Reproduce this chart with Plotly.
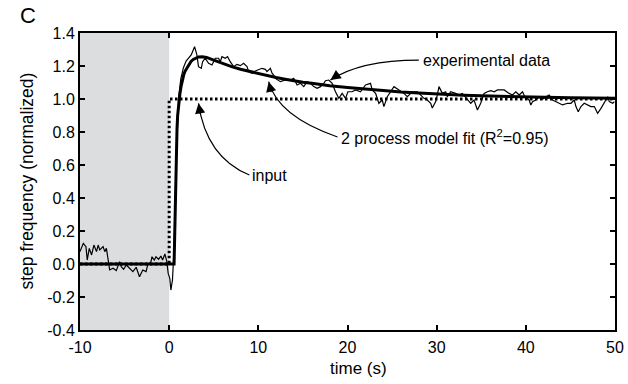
import plotly.graph_objects as go

# ---- data ----
exp_t = [-10.0, -9.63, -9.33, -9.19, -8.96, -8.70, -8.44, -8.15, -7.96, -7.78, -7.41, -7.22, -7.04,
         -6.85, -6.67, -6.30, -5.93, -5.56, -5.37, -5.11, -4.81, -4.44, -4.07, -3.70, -3.33, -3.15,
         -2.96, -2.59, -2.41, -2.04, -1.93, -1.67, -1.48, -1.19, -0.93, -0.74, -0.48, -0.26, -0.11,
         0.07, 0.19, 0.37, 0.56, 0.75, 0.90, 1.05, 1.30, 1.60, 1.90,
         2.17, 2.47, 2.85, 3.11, 3.29, 3.60, 3.75, 4.04, 4.42, 4.80, 5.17, 5.54, 5.73, 5.92, 6.29,
         6.55, 6.85, 7.23, 7.60, 7.98, 8.35, 8.73, 8.91, 9.29, 9.66, 10.03, 10.41, 10.79, 10.97,
         11.35, 11.54, 11.72, 11.91, 12.47, 13.03, 13.60, 13.97, 14.35, 14.72, 15.09, 15.47, 15.84,
         16.22, 16.59, 16.97, 17.34, 17.53, 17.90, 18.28, 18.65, 19.03, 19.40, 19.78, 20.04, 20.52,
         20.90, 21.46, 22.02, 22.58, 22.77, 23.15, 23.52, 23.90, 24.08, 24.46, 24.83,
         25.21, 25.77, 26.33, 26.71, 27.27, 27.83, 28.20, 28.58, 28.95, 29.33, 29.51, 29.89, 30.07,
         30.26, 30.64, 31.01, 31.20, 31.57, 32.13, 32.51, 32.88, 33.45, 33.82, 34.19, 34.57, 34.94,
         35.32, 35.69, 36.07, 36.44, 36.82, 37.19,
         37.57, 38.13, 38.50, 38.88, 39.25, 39.63, 39.89, 40.37, 40.56, 40.75, 41.12, 41.50, 41.87,
         42.25, 42.62, 43.00, 43.37, 43.75, 44.12, 44.68, 45.06, 45.43, 45.62, 45.88, 46.18, 46.55,
         46.93, 47.30, 47.68, 48.05, 48.43, 48.80, 49.18, 49.36, 49.74, 49.93]
exp_v = [0.075, 0.125, 0.105, 0.024, 0.095, 0.055, 0.115, 0.075, 0.115, 0.085, 0.105, 0.075, 0.095,
         0.014, -0.036, -0.026, -0.040, 0.014, -0.016, -0.032, -0.006, -0.026, -0.046, -0.020, -0.077, -0.057,
         -0.036, -0.046, -0.006, 0.014, 0.044, 0.024, 0.044, 0.028, 0.048, 0.024, 0.061, 0.014, -0.057,
         -0.087, -0.158, -0.097, 0.105, 0.55, 0.85, 1.00, 1.12, 1.19, 1.23,
         1.247, 1.267, 1.317, 1.267, 1.196, 1.186, 1.226, 1.247, 1.216, 1.206, 1.247, 1.247, 1.226, 1.257, 1.247,
         1.257, 1.226, 1.196, 1.210, 1.202, 1.216, 1.196, 1.166, 1.156, 1.170, 1.176, 1.186, 1.180, 1.166,
         1.186, 1.156, 1.145, 1.125, 1.105, 1.115, 1.115, 1.125, 1.085, 1.095, 1.075, 1.105, 1.095,
         1.075, 1.065, 1.075, 1.095, 1.111, 1.115, 1.095, 1.044, 1.004, 1.034, 1.004, 1.044, 1.044,
         1.055, 1.044, 1.085, 1.095, 1.055, 1.034, 0.974, 0.994, 0.954, 1.014, 1.044,
         1.075, 1.055, 1.034, 1.014, 1.044, 1.044, 1.024, 1.004, 0.994, 0.974, 0.945, 0.984, 1.024,
         1.075, 1.034, 1.044, 1.014, 1.044, 1.034, 1.024, 1.034, 0.994, 0.974, 0.994, 0.933, 0.974,
         1.034, 1.044, 1.050, 1.044, 1.055, 1.055,
         1.055, 1.034, 1.024, 1.044, 1.024, 1.044, 1.014, 0.994, 0.964, 0.984, 0.994, 1.014, 0.998,
         1.014, 1.024, 0.994, 0.984, 0.974, 0.964, 0.974, 0.974, 0.994, 0.954, 0.923, 0.954, 0.974,
         0.964, 0.954, 0.954, 0.913, 0.943, 0.974, 1.014, 0.984, 0.974, 0.984]

fit_t = [-10, 0.55, 0.60, 0.65, 0.70, 0.75, 0.80, 0.88, 0.95, 1.05, 1.2, 1.35, 1.5, 1.65, 1.8,
         2.0, 2.2, 2.45, 2.7, 3.0, 3.3, 3.7, 4.2, 5, 6, 7, 8, 9, 10, 11, 12, 13, 14, 15, 16,
         18, 20, 22, 24, 26, 28, 30, 33, 36, 40, 45, 50]
fit_v = [0.0, 0.0, 0.12, 0.28, 0.45, 0.58, 0.70, 0.82, 0.90, 0.97, 1.03, 1.08, 1.12, 1.15, 1.17,
         1.19, 1.21, 1.228, 1.24, 1.25, 1.255, 1.256, 1.252, 1.235, 1.215, 1.196, 1.18, 1.167,
         1.155, 1.142, 1.13, 1.12, 1.11, 1.102, 1.095, 1.08, 1.07, 1.06, 1.05, 1.042, 1.036,
         1.03, 1.023, 1.018, 1.012, 1.008, 1.005]

input_t = [-10, 0, 0, 50]
input_v = [0, 0, 1, 1]

x_ticks = [-10, 0, 10, 20, 30, 40, 50]
x_ticktext = ["-10", "0", "10", "20", "30", "40", "50"]
y_ticks = [-0.4, -0.2, 0.0, 0.2, 0.4, 0.6, 0.8, 1.0, 1.2, 1.4]
y_ticktext = ["-0.4", "-0.2", "0.0", "0.2", "0.4", "0.6", "0.8", "1.0", "1.2", "1.4"]

FONT = "Arial, Liberation Sans, Helvetica, sans-serif"

fig = go.Figure()
fig.add_trace(go.Scatter(x=input_t, y=input_v, mode="lines",
                         line=dict(color="black", width=3, dash="2.5px,2.5px"), hoverinfo="skip"))
fig.add_trace(go.Scatter(x=exp_t, y=exp_v, mode="lines",
                         line=dict(color="black", width=1.2), hoverinfo="skip"))
fig.add_trace(go.Scatter(x=fit_t, y=fit_v, mode="lines",
                         line=dict(color="black", width=3), hoverinfo="skip"))

# grey pre-stimulus band
fig.add_shape(type="rect", xref="x", yref="paper", x0=-10, x1=0, y0=0, y1=1,
              fillcolor="#dcdddf", line_width=0, layer="below")

# curved arrow bodies
arrow_line = dict(color="black", width=1.2)
fig.add_shape(type="path", xref="x", yref="y",
              path="M 28.0,1.236 Q 21.46,1.236 18.09,1.115", line=arrow_line)
fig.add_shape(type="path", xref="x", yref="y",
              path="M 18.88,0.770 Q 12.19,0.894 11.16,1.105", line=arrow_line)
fig.add_shape(type="path", xref="x", yref="y",
              path="M 9.0,0.539 Q 4.16,0.648 3.29,0.974", line=arrow_line)

# arrow heads
for (tx, ty, ax, ay) in [(18.09, 1.115, 10, -7), (11.16, 1.105, 3, 12), (3.29, 0.974, 2, 12)]:
    fig.add_annotation(x=tx, y=ty, xref="x", yref="y", text="", showarrow=True,
                       ax=ax, ay=ay, arrowhead=2, arrowsize=1.7, arrowwidth=1.2, arrowcolor="black")

ann_font = dict(family=FONT, size=16, color="black")
fig.add_annotation(x=28.2, y=1.236, xref="x", yref="y", text="experimental data", showarrow=False,
                   xanchor="left", yanchor="middle", font=ann_font)
fig.add_annotation(x=19.0, y=0.770, xref="x", yref="y",
                   text="2 process model fit (R<sup>2</sup>=0.95)", showarrow=False,
                   xanchor="left", yanchor="middle", font=ann_font)
fig.add_annotation(x=9.1, y=0.539, xref="x", yref="y", text="input", showarrow=False,
                   xanchor="left", yanchor="middle", font=ann_font)

# panel letter
fig.add_annotation(xref="paper", yref="paper", x=0, y=1, xshift=-52, yshift=18,
                   xanchor="center", yanchor="middle", text="C", showarrow=False,
                   font=dict(family=FONT, size=22, color="black"))

# axis titles
fig.add_annotation(x=0.52, y=0, xref="paper", yref="paper", text="time (s)", showarrow=False,
                   yshift=-27, yanchor="top", font=dict(family=FONT, size=17, color="black"))
fig.add_annotation(x=0, y=0.5, xref="paper", yref="paper", text="step frequency (normalized)",
                   showarrow=False, textangle=-90, xshift=-54, xanchor="center", yanchor="middle",
                   font=dict(family=FONT, size=17.5, color="black"))

axis_common = dict(showline=True, linecolor="black", linewidth=2, mirror="ticks",
                   ticks="inside", ticklen=5, tickwidth=2, tickcolor="black",
                   showgrid=False, zeroline=False, automargin=False,
                   tickfont=dict(family=FONT, size=16, color="black"))
fig.update_xaxes(range=[-10, 50], tickvals=x_ticks, ticktext=x_ticktext,
                 ticklabelstandoff=2, **axis_common)
fig.update_yaxes(range=[-0.4, 1.4], tickvals=y_ticks, ticktext=y_ticktext, **axis_common)

fig.update_layout(width=628, height=384, margin=dict(l=80, r=13, t=33, b=54, autoexpand=False),
                  paper_bgcolor="white", plot_bgcolor="white", showlegend=False,
                  font=dict(family=FONT, color="black"))

fig.write_html("out.html")
